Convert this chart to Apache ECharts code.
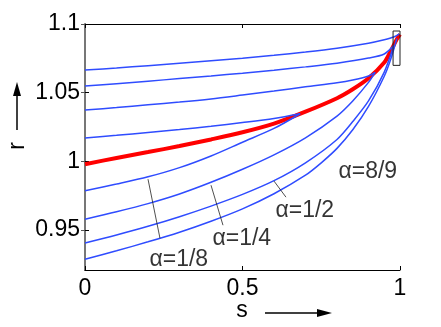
<!DOCTYPE html>
<html>
<head>
<meta charset="utf-8">
<script src="https://cdn.jsdelivr.net/npm/echarts@6/dist/echarts.min.js"></script>
<style>
html,body{margin:0;padding:0;background:#fff;}
#chart{width:441px;height:327px;}
</style>
</head>
<body>
<div id="chart"></div>
<script>
// ---- data ----
const xTicks = [0, 0.5, 1];
const yTicks = [0.95, 1, 1.05, 1.1];
const xName = 's';
const yName = 'r';

// red curve
const sRed = [0, 0.1, 0.2, 0.3, 0.4, 0.5, 0.6, 0.7, 0.8, 0.85, 0.9, 0.95, 0.97, 0.99, 1.0];
const rRed = [0.998, 1.0025, 1.0068, 1.0112, 1.0160, 1.0212, 1.0275, 1.0362, 1.0460, 1.0525, 1.0605, 1.0720, 1.0800, 1.0890, 1.0925];

// upper branches (start above red)
const sUp1 = [0, 0.1, 0.2, 0.3, 0.4, 0.5, 0.6, 0.7, 0.8, 0.9, 0.95, 0.98, 0.998];
const rUp1 = [1.0665, 1.0680, 1.0697, 1.0714, 1.0732, 1.0751, 1.0772, 1.0796, 1.0824, 1.0860, 1.0885, 1.0905, 1.0928];
const sUp2 = [0, 0.1, 0.2, 0.3, 0.4, 0.5, 0.6, 0.7, 0.8, 0.9, 0.95, 0.98];
const rUp2 = [1.0548, 1.0566, 1.0584, 1.0603, 1.0622, 1.0642, 1.0664, 1.0688, 1.0715, 1.0752, 1.0782, 1.0843];
const sUp3 = [0, 0.1, 0.2, 0.3, 0.4, 0.5, 0.6, 0.7, 0.8, 0.85, 0.9, 0.921];
const rUp3 = [1.0374, 1.0392, 1.0412, 1.0432, 1.0455, 1.0483, 1.0512, 1.0543, 1.0572, 1.0592, 1.0622, 1.0648];
const sUp4 = [0, 0.1, 0.2, 0.3, 0.4, 0.5, 0.6, 0.683];
const rUp4 = [1.0170, 1.0190, 1.0211, 1.0232, 1.0256, 1.0283, 1.0313, 1.0347];

// lower branches (start below red)
const sLo1 = [0, 0.1, 0.2, 0.3, 0.4, 0.5, 0.6, 0.683];
const rLo1 = [0.9786, 0.9835, 0.9888, 0.9955, 1.0040, 1.0140, 1.0240, 1.0347];
const sLo2 = [0, 0.1, 0.2, 0.3, 0.4, 0.5, 0.6, 0.7, 0.8, 0.85, 0.9, 0.921];
const rLo2 = [0.9580, 0.9634, 0.9693, 0.9763, 0.9848, 0.9943, 1.0048, 1.0172, 1.0330, 1.0440, 1.0575, 1.0648];
const sLo3 = [0, 0.1, 0.2, 0.3, 0.4, 0.5, 0.6, 0.7, 0.8, 0.85, 0.9, 0.95, 0.98];
const rLo3 = [0.9407, 0.9465, 0.9528, 0.9598, 0.9675, 0.9760, 0.9860, 0.9990, 1.0160, 1.0290, 1.0440, 1.0650, 1.0843];
const sLo4 = [0, 0.1, 0.2, 0.3, 0.4, 0.5, 0.6, 0.7, 0.75, 0.8, 0.85, 0.9, 0.95, 0.97, 0.99];
const rLo4 = [0.9288, 0.9350, 0.9415, 0.9485, 0.9565, 0.9655, 0.9765, 0.9900, 0.9990, 1.0095, 1.0230, 1.0400, 1.0620, 1.0740, 1.0895];

// small box near the top-right corner
const sBox = [0.978, 1.0, 1.0, 0.978, 0.978];
const rBox = [1.0949, 1.0949, 1.0699, 1.0699, 1.0949];

// annotation labels and leader lines
const labelTexts = ['α=1/8', 'α=1/4', 'α=1/2', 'α=8/9'];
const labelS = [0.203, 0.403, 0.603, 0.803];
const labelR = [0.9288, 0.9441, 0.9645, 0.9922];
const leaderS = [[0.2, 0.238], [0.4, 0.438], [0.6, 0.638]];
const leaderR = [[0.9871, 0.9441], [0.9827, 0.9536], [0.9857, 0.9740]];

// ---- chart ----
const zip = (a, b) => a.map((v, i) => [v, b[i]]);
const FONT = 'Liberation Sans';
const BLUE = '#2f4cff';

const blueSeries = [[sUp1, rUp1], [sUp2, rUp2], [sUp3, rUp3], [sUp4, rUp4],
                    [sLo1, rLo1], [sLo2, rLo2], [sLo3, rLo3], [sLo4, rLo4]].map(([s, r]) => ({
  type: 'line', data: zip(s, r), showSymbol: false, smooth: 0.3,
  lineStyle: { color: BLUE, width: 1.5 }, z: 3, silent: true, animation: false
}));

const leaderSeries = leaderS.map((s, i) => ({
  type: 'line', data: zip(s, leaderR[i]), showSymbol: false,
  lineStyle: { color: '#222', width: 0.8 }, z: 4, silent: true, animation: false
}));

const series = [
  { type: 'line', data: zip(sRed, rRed), showSymbol: false, smooth: 0.3,
    lineStyle: { color: '#ff0000', width: 4 }, z: 2, silent: true, animation: false },
  ...blueSeries,
  { type: 'line', data: zip(sBox, rBox), showSymbol: false,
    lineStyle: { color: '#222', width: 1 }, z: 5, silent: true, animation: false },
  ...leaderSeries,
  { type: 'scatter', data: labelS.map((s, i) => [s, labelR[i], labelTexts[i]]),
    symbolSize: 1, itemStyle: { color: 'rgba(0,0,0,0)' }, z: 6, silent: true, animation: false,
    label: { show: true, position: 'right', distance: 0, formatter: p => p.data[2],
             color: '#000', fontSize: 23, fontFamily: FONT } }
];

const chart = echarts.init(document.getElementById('chart'), null, { renderer: 'canvas' });
chart.setOption({
  animation: false,
  backgroundColor: '#fff',
  grid: { left: 85, right: 41, top: 24, bottom: 57, containLabel: false, outerBoundsMode: 'none' },
  xAxis: [
    { type: 'value', min: 0, max: 1, interval: 0.5, position: 'bottom',
      axisLine: { show: true, lineStyle: { color: '#000', width: 1 } },
      axisTick: { show: true, inside: true, length: 4, lineStyle: { color: '#000' } },
      axisLabel: { show: true, fontSize: 23, fontFamily: FONT, color: '#000', margin: 7,
                   customValues: xTicks },
      splitLine: { show: false } },
    { type: 'value', min: 0, max: 1, interval: 0.5, position: 'top',
      axisLine: { show: true, lineStyle: { color: '#000', width: 1 } },
      axisTick: { show: true, inside: true, length: 4, lineStyle: { color: '#000' } },
      axisLabel: { show: false }, splitLine: { show: false } }
  ],
  yAxis: [
    { type: 'value', min: 0.921, max: 1.1, position: 'left',
      axisLine: { show: true, lineStyle: { color: '#000', width: 1 } },
      axisTick: { show: true, inside: true, length: 4, lineStyle: { color: '#000' }, customValues: yTicks },
      axisLabel: { show: true, fontSize: 23, fontFamily: FONT, color: '#000', margin: 5,
                   customValues: yTicks },
      splitLine: { show: false } },
    { type: 'value', min: 0.921, max: 1.1, position: 'right',
      axisLine: { show: true, lineStyle: { color: '#777', width: 2 } },
      axisTick: { show: true, inside: true, length: 4, lineStyle: { color: '#555' }, customValues: yTicks },
      axisLabel: { show: false }, splitLine: { show: false } }
  ],
  series: series,
  graphic: [
    { type: 'text', x: 242, y: 311,
      style: { text: xName, fontSize: 23, fontFamily: FONT, fill: '#000', align: 'center', verticalAlign: 'middle' } },
    { type: 'text', x: 18, y: 146, rotation: Math.PI / 2,
      style: { text: yName, fontSize: 23, fontFamily: FONT, fill: '#000', align: 'center', verticalAlign: 'middle' } },
    { type: 'line', shape: { x1: 17, y1: 130, x2: 17, y2: 94 }, style: { stroke: '#000', lineWidth: 1.5 } },
    { type: 'polygon', shape: { points: [[17, 82], [13, 96], [21, 96]] }, style: { fill: '#000' } },
    { type: 'line', shape: { x1: 265, y1: 313, x2: 319, y2: 313 }, style: { stroke: '#000', lineWidth: 1.5 } },
    { type: 'polygon', shape: { points: [[332, 313], [317, 309], [317, 317]] }, style: { fill: '#000' } }
  ]
});
</script>
</body>
</html>
